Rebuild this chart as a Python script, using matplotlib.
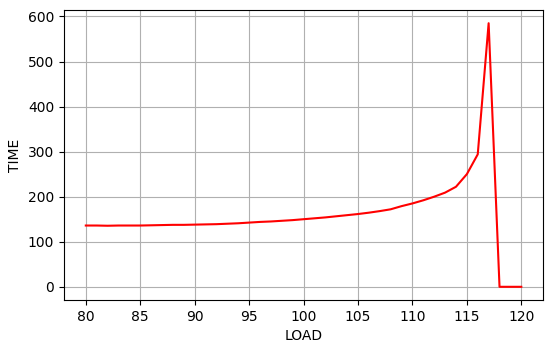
import numpy as np
import matplotlib.pyplot as plt

load = [80, 81, 82, 83, 84, 85, 86, 87, 88, 89, 90, 91, 92, 93, 94, 95, 96, 97, 98, 99, 100,
        101, 102, 103, 104, 105, 106, 107, 108, 109, 110, 111, 112, 113, 114, 115, 116, 117, 118, 119, 120]
time = [136, 136, 135.5, 136, 136, 136, 136.5, 137, 137.5, 137.5, 138, 138.5, 139, 140, 141, 142.5, 144, 145, 146.5, 148, 150,
        152, 154, 156.5, 159, 161.5, 164.5, 168, 172, 179, 185, 192, 200, 209, 222, 250, 294, 585, 0, 0, 0]

fig = plt.figure(figsize=(5.5, 3.46), dpi=100)
ax = fig.add_axes([0.1164, 0.133, 0.871, 0.838])
ax.plot(load, time, color='red')
ax.set_xlabel('LOAD')
ax.set_ylabel('TIME')
ax.set_xticks([80, 85, 90, 95, 100, 105, 110, 115, 120])
ax.set_yticks([0, 100, 200, 300, 400, 500, 600])
ax.grid(True)
fig.savefig('out.png', dpi=100)
